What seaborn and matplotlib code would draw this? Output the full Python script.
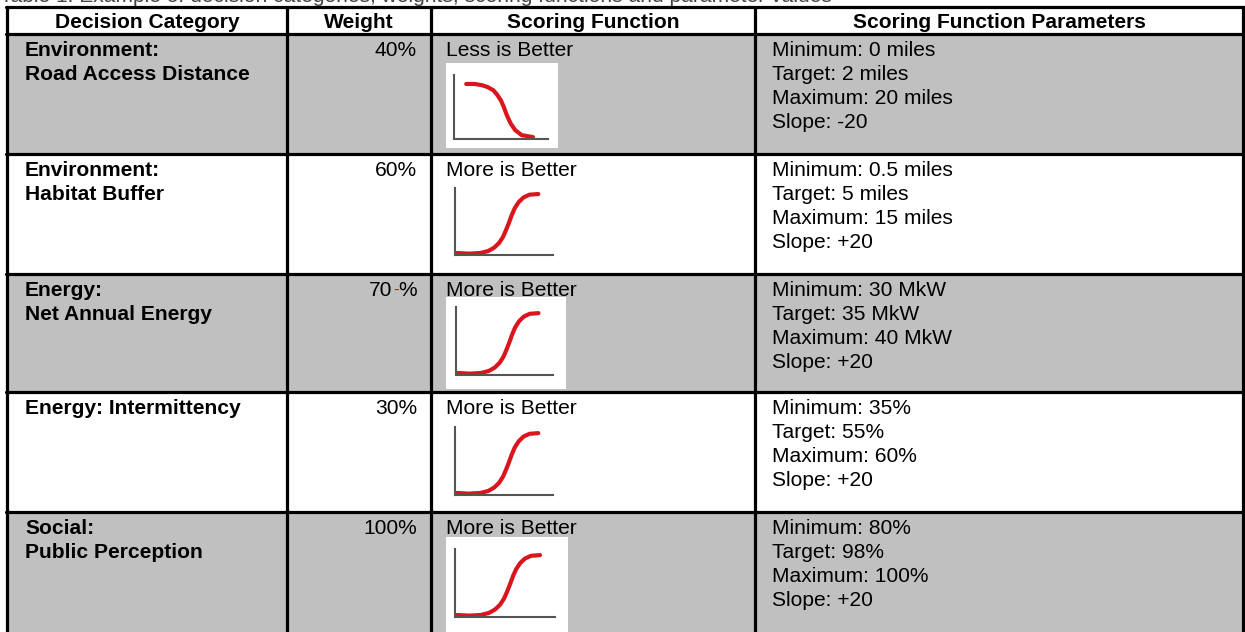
import matplotlib
matplotlib.use("Agg")
import matplotlib.pyplot as plt
import seaborn as sns
import pandas as pd
from matplotlib.patches import Rectangle

sns.set_theme(style="white")
plt.rcParams['font.family'] = ['Liberation Sans', 'DejaVu Sans']
plt.rcParams['text.color'] = 'black'

# Table content
headers = ["Decision Category", "Weight", "Scoring Function", "Scoring Function Parameters"]
categories = [["Environment:", "Road Access Distance"],
              ["Environment:", "Habitat Buffer"],
              ["Energy:", "Net Annual Energy"],
              ["Energy: Intermittency"],
              ["Social:", "Public Perception"]]
weights = ["40%", "60%", "70-%", "30%", "100%"]
functions = ["Less is Better", "More is Better", "More is Better", "More is Better", "More is Better"]
parameters = [["Minimum: 0 miles", "Target: 2 miles", "Maximum: 20 miles", "Slope: -20"],
              ["Minimum: 0.5 miles", "Target: 5 miles", "Maximum: 15 miles", "Slope: +20"],
              ["Minimum: 30 MkW", "Target: 35 MkW", "Maximum: 40 MkW", "Slope: +20"],
              ["Minimum: 35%", "Target: 55%", "Maximum: 60%", "Slope: +20"],
              ["Minimum: 80%", "Target: 98%", "Maximum: 100%", "Slope: +20"]]
caption = "Table 1. Example of decision categories, weights, scoring functions and parameter values"

# shape of the icon curves (0-1 in icon axes)
less_x = [0.13, 0.22, 0.30, 0.36, 0.42, 0.46, 0.50, 0.53, 0.56, 0.60, 0.65, 0.72, 0.84]
less_y = [0.86, 0.86, 0.84, 0.81, 0.76, 0.69, 0.60, 0.50, 0.38, 0.25, 0.14, 0.06, 0.03]
more_x = [0.02, 0.14, 0.26, 0.34, 0.40, 0.45, 0.49, 0.52, 0.55, 0.58, 0.61, 0.65, 0.70, 0.76, 0.85]
more_y = [0.03, 0.02, 0.03, 0.06, 0.11, 0.18, 0.27, 0.37, 0.48, 0.60, 0.70, 0.79, 0.86, 0.90, 0.91]

# layout in pixels
W, H = 1245, 632
col_x = [7, 287, 431, 755, 1243]
row_y = [34, 154, 274, 392, 512, 632]
header_top = 7
gray = "#c0c0c0"
shaded = [True, False, True, False, True]
box_px = [(446, 63, 558, 148), None, (446, 297, 566, 389), None, (446, 537, 568, 640)]
icon_px = [(454, 75, 548, 139), (455, 188, 553, 255), (456, 307, 553, 375),
           (455, 427, 553, 495), (455, 549, 555, 617)]
fs = 15.1
lh = 24

fig = plt.figure(figsize=(W / 100, H / 100), dpi=100)
ax = fig.add_axes([0, 0, 1, 1])
ax.set_xlim(0, W)
ax.set_ylim(H, 0)
ax.axis("off")

# caption, cut off at the top edge
ax.text(0, 2, caption, fontsize=fs, va="baseline", ha="left", color="#444444")

# row backgrounds and white icon boxes
for i in range(5):
    if shaded[i]:
        ax.add_patch(Rectangle((col_x[0], row_y[i]), col_x[-1] - col_x[0],
                               row_y[i + 1] - row_y[i], color=gray, lw=0, zorder=0))
    if box_px[i] is not None:
        x0, y0, x1, y1 = box_px[i]
        ax.add_patch(Rectangle((x0, y0), x1 - x0, y1 - y0, color="white", lw=0, zorder=1))

# grid lines
lw = 2.3
for y in [header_top] + row_y[:-1]:
    ax.plot([col_x[0] - 1.5, col_x[-1] + 1.5], [y, y], color="black", lw=lw, zorder=3)
for x in col_x:
    ax.plot([x, x], [header_top, H + 2], color="black", lw=lw, zorder=3)

# header
hb = (header_top + row_y[0]) / 2 + 7.5
for j, h in enumerate(headers):
    ax.text((col_x[j] + col_x[j + 1]) / 2, hb, h, fontsize=fs, fontweight="bold",
            ha="center", va="baseline", color="black")

# body text
for i in range(5):
    base = row_y[i] + 22
    for k, line in enumerate(categories[i]):
        ax.text(25, base + k * lh, line, fontsize=fs, fontweight="bold", va="baseline",
                color="black")
    w = weights[i]
    if "-" in w:
        a, b = w.split("-")
        ax.text(417, base, b, fontsize=fs, ha="right", va="baseline", color="black")
        ax.text(399, base - 1, "-", fontsize=fs * 0.8, ha="right", va="baseline", color="red")
        ax.text(392, base, a, fontsize=fs, ha="right", va="baseline", color="black")
    else:
        ax.text(417, base, w, fontsize=fs, ha="right", va="baseline", color="black")
    ax.text(446, base, functions[i], fontsize=fs, va="baseline", color="black")
    for k, line in enumerate(parameters[i]):
        ax.text(772, base + k * lh, line, fontsize=fs, va="baseline", color="black")

# scoring function icons
for i in range(5):
    x0, y0, x1, y1 = icon_px[i]
    iax = fig.add_axes([x0 / W, 1 - y1 / H, (x1 - x0) / W, (y1 - y0) / H])
    iax.patch.set_alpha(0)
    if functions[i].startswith("Less"):
        d = pd.DataFrame({"x": less_x, "y": less_y})
    else:
        d = pd.DataFrame({"x": more_x, "y": more_y})
    sns.lineplot(data=d, x="x", y="y", ax=iax, color="#d9161e", lw=3.0,
                 sort=False, clip_on=False, solid_capstyle="round", solid_joinstyle="round")
    iax.set_xlim(0, 1)
    iax.set_ylim(0, 1)
    iax.set_xticks([])
    iax.set_yticks([])
    iax.set_xlabel("")
    iax.set_ylabel("")
    for s in ["top", "right"]:
        iax.spines[s].set_visible(False)
    for s in ["left", "bottom"]:
        iax.spines[s].set_visible(True)
        iax.spines[s].set_color("#555555")
        iax.spines[s].set_linewidth(1.5)

fig.savefig("out.png", dpi=100)
